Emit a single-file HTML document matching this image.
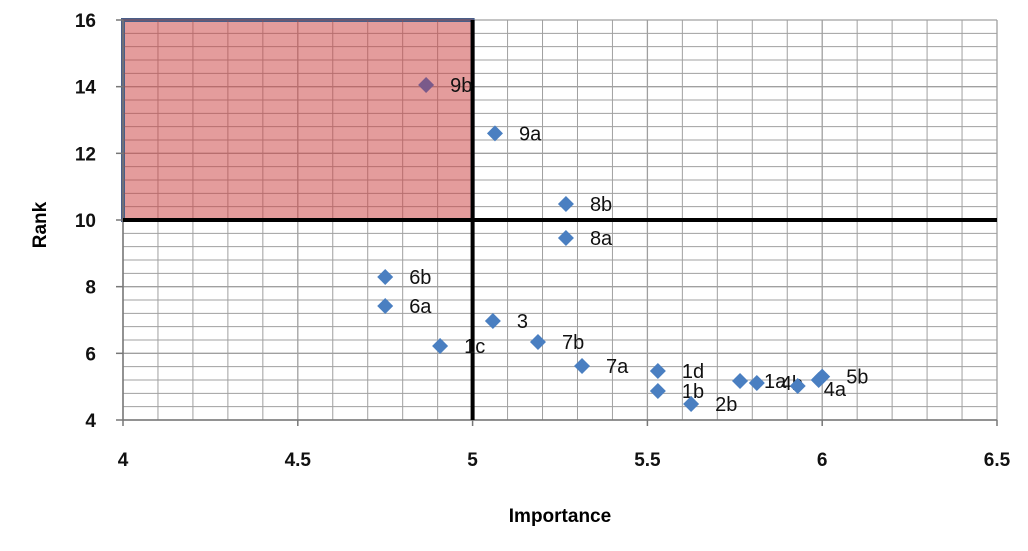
<!DOCTYPE html>
<html><head><meta charset="utf-8"><style>
html,body{margin:0;padding:0;background:#fff;width:1028px;height:551px;overflow:hidden}
svg{display:block;font-family:"Liberation Sans",sans-serif}
</style></head><body>
<svg id="chart" width="1028" height="551">
<g id="grid"></g>
<rect id="redbox" fill="#e49c9c" stroke="#4a5e88" stroke-width="4"/>
<g id="gridover"></g>
<g id="axes"></g>
<g id="marks"></g>
<text x="46" y="225" transform="rotate(-90 46 225)" text-anchor="middle" font-size="19" font-weight="bold">Rank</text>
<text x="560" y="522" text-anchor="middle" font-size="19" font-weight="bold">Importance</text>
</svg>
<script>
const labels = ["9b","9a","8b","8a","6b","6a","3","7b","1c","7a","1d","1b","2b","1a","4b","","4a","5b"];
const xs = [4.867,5.064,5.267,5.267,4.75,4.75,5.058,5.187,4.907,5.313,5.53,5.53,5.625,5.765,5.813,5.93,5.99,6.0];
const ys = [14.05,12.6,10.48,9.46,8.29,7.42,6.97,6.34,6.22,5.62,5.47,4.87,4.48,5.17,5.11,5.02,5.2,5.3];
const xTicks = ["4","4.5","5","5.5","6","6.5"];
const yTicks = ["4","6","8","10","12","14","16"];
const NS="http://www.w3.org/2000/svg";
const X0=123,X1=997,Y0=420,Y1=20;
const sx=v=>X0+(v-4)/2.5*(X1-X0);
const sy=v=>Y0-(v-4)/12*(Y0-Y1);
function mk(t,a,p){const e=document.createElementNS(NS,t);for(const k in a)e.setAttribute(k,a[k]);p.appendChild(e);return e;}
const grid=document.getElementById('grid'),go=document.getElementById('gridover'),axes=document.getElementById('axes'),marks=document.getElementById('marks');
function drawGrid(p,c,x0,x1,y0,y1){
  for(let i=0;i<=25;i++){const v=4+i*0.1;if(v<x0-1e-9||v>x1+1e-9)continue;
    const l=mk('line',{x1:sx(v),x2:sx(v),y1:sy(y0),y2:sy(y1),stroke:c,'stroke-width':(i%5==0?1.3:1)},p);
    }
  for(let i=0;i<=30;i++){const v=4+i*0.4;if(v<y0-1e-9||v>y1+1e-9)continue;
    const l=mk('line',{x1:sx(x0),x2:sx(x1),y1:sy(v),y2:sy(v),stroke:c,'stroke-width':(i%5==0?1.3:1)},p);
    }
}
drawGrid(grid,'#a0a0a0',4,6.5,4,16);
const rb=document.getElementById('redbox');
rb.setAttribute('x',sx(4));rb.setAttribute('y',sy(16));rb.setAttribute('width',sx(5)-sx(4));rb.setAttribute('height',sy(10)-sy(16));
drawGrid(go,'#9a5050',4,5,10,16);
go.setAttribute('opacity','0.6');
let a=mk('line',{x1:X0,x2:X0,y1:Y1,y2:Y0,stroke:'#777','stroke-width':1.5},axes);

a=mk('line',{x1:X0,x2:X1,y1:Y0,y2:Y0,stroke:'#777','stroke-width':1.5},axes);

xTicks.forEach(t=>{const x=sx(parseFloat(t));
  mk('line',{x1:x,x2:x,y1:Y0,y2:Y0+6,stroke:'#777','stroke-width':1.5},axes);
  const e=mk('text',{x:x,y:Y0+46,'text-anchor':'middle','font-size':19,'font-weight':'bold',fill:'#111'},axes);e.textContent=t;
  });
yTicks.forEach(t=>{const y=sy(parseFloat(t));
  mk('line',{x1:X0-7,x2:X0,y1:y,y2:y,stroke:'#777','stroke-width':1.5},axes);
  const e=mk('text',{x:X0-27,y:y+7,'text-anchor':'end','font-size':19,'font-weight':'bold',fill:'#111'},axes);e.textContent=t;
  });
a=mk('line',{x1:X0,x2:X1,y1:sy(10),y2:sy(10),stroke:'#000','stroke-width':4},axes);

a=mk('line',{x1:sx(5),x2:sx(5),y1:Y1,y2:Y0,stroke:'#000','stroke-width':4},axes);

xs.forEach((v,i)=>{const x=sx(v),y=sy(ys[i]);
  const p=mk('polygon',{points:`${x},${y-8} ${x+8},${y} ${x},${y+8} ${x-8},${y}`,fill:i==0?'#7a5a8a':'#4a7fc1'},marks);
  
  
  if(labels[i]){
    let dx=24,dy=7;
    if(labels[i]==='4a'){dx=5;dy=16;}
    const t=mk('text',{x:x+dx,y:y+dy,'font-size':20,fill:'#111'},marks);t.textContent=labels[i];
    
    }
});
</script>
</body></html>
